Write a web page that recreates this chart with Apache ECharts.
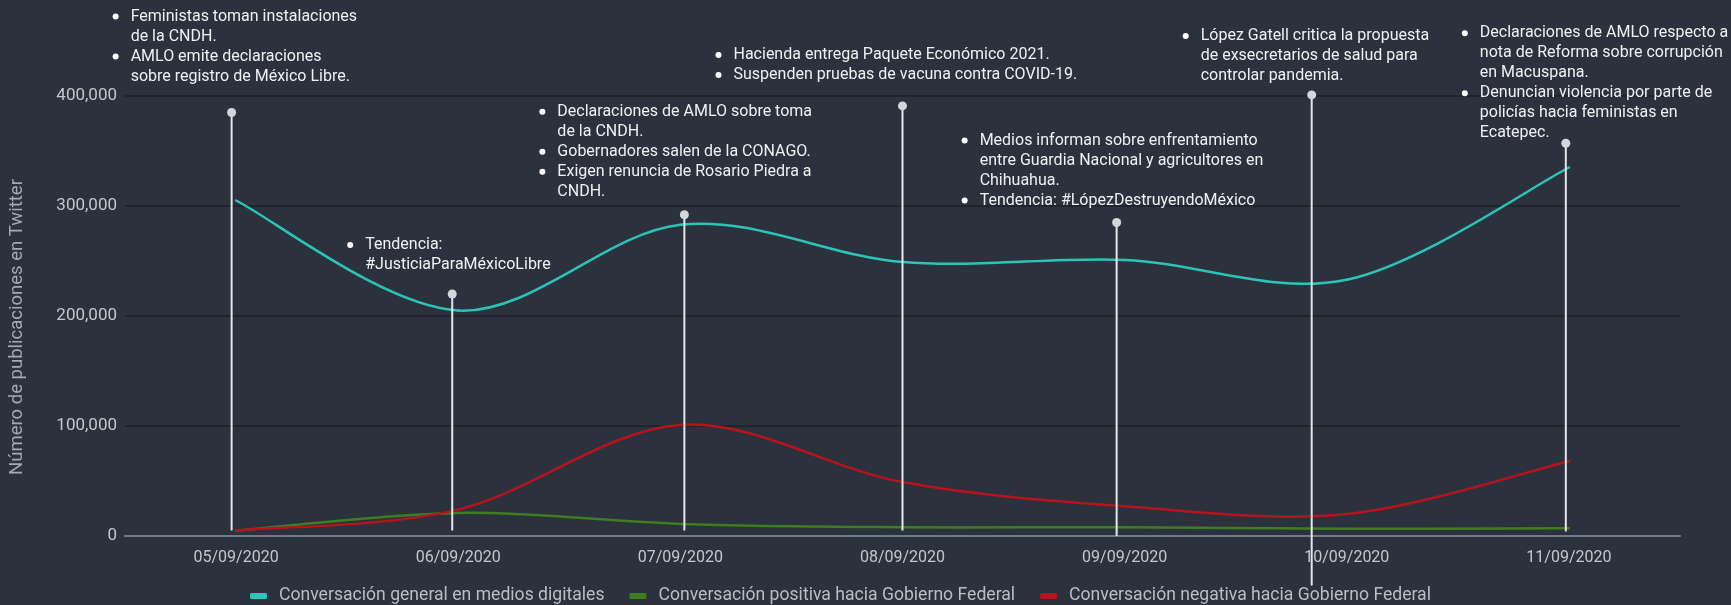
<!DOCTYPE html>
<html>
<head>
<meta charset="utf-8">
<script src="https://cdn.jsdelivr.net/npm/echarts@6/dist/echarts.min.js"></script>
<style>
html,body{margin:0;padding:0;background:#2c323d;}
#chart{width:1731px;height:605px;}
</style>
</head>
<body>
<div id="chart"></div>
<script>
// ---- data ----
const categories = ['05/09/2020','06/09/2020','07/09/2020','08/09/2020','09/09/2020','10/09/2020','11/09/2020'];
const seriesNames = ['Conversación general en medios digitales','Conversación positiva hacia Gobierno Federal','Conversación negativa hacia Gobierno Federal'];
const general  = [305000, 205000, 283000, 249000, 251000, 233000, 335000];
const positiva = [5000, 21000, 11000, 8000, 8000, 6500, 7000];
const negativa = [5000, 24000, 101000, 49000, 27000, 20000, 68000];
const yTicks = [0, 100000, 200000, 300000, 400000];
// annotation markers: position along category index, top and bottom value
const annotX      = [-0.02, 0.973, 2.018, 3.0, 3.964, 4.842, 5.986];
const annotTop    = [385000, 220000, 292000, 391000, 285000, 401000, 357000];
const annotBottom = [5000, 5000, 5000, 5000, 0, -45000, 4000];
const annotText = [
  [['Feministas toman instalaciones','de la CNDH.'],['AMLO emite declaraciones','sobre registro de México Libre.']],
  [['Tendencia:','#JusticiaParaMéxicoLibre']],
  [['Declaraciones de AMLO sobre toma','de la CNDH.'],['Gobernadores salen de la CONAGO.'],['Exigen renuncia de Rosario Piedra a','CNDH.']],
  [['Hacienda entrega Paquete Económico 2021.'],['Suspenden pruebas de vacuna contra COVID-19.']],
  [['Medios informan sobre enfrentamiento','entre Guardia Nacional y agricultores en','Chihuahua.'],['Tendencia: #LópezDestruyendoMéxico']],
  [['López Gatell critica la propuesta','de exsecretarios de salud para','controlar pandemia.']],
  [['Declaraciones de AMLO respecto a','nota de Reforma sobre corrupción','en Macuspana.'],['Denuncian violencia por parte de','policías hacia feministas en','Ecatepec.']]
];

// ---- layout (pixel offsets of text blocks relative to marker dot) ----
const textLayout = [
  {dx:-101, dy:-96}, {dx:-87, dy:-49}, {dx:-127, dy:-103}, {dx:-169, dy:-51},
  {dx:-137, dy:-82}, {dx:-111, dy:-59}, {dx:-86, dy:-110}
];
const colors = ['#2cc4b7', '#3f7d22', '#b8121d'];

const FONT = 'Roboto, "Noto Sans", sans-serif';
const chart = echarts.init(document.getElementById('chart'));

const annotData = annotX.map((x, i) => [x, annotTop[i], annotBottom[i]]);

function renderAnnot(params, api) {
  const i = params.dataIndex;
  const top = api.coord([api.value(0), api.value(1)]);
  const bot = api.coord([api.value(0), api.value(2)]);
  const lay = textLayout[i];
  const children = [
    {type:'line', shape:{x1:top[0], y1:top[1], x2:bot[0], y2:bot[1]}, style:{stroke:'#e4e6ea', lineWidth:2}},
    {type:'circle', shape:{cx:top[0], cy:top[1], r:4.5}, style:{fill:'#d3d6dc'}}
  ];
  const x = top[0] + lay.dx;
  let y = top[1] + lay.dy;
  annotText[i].forEach(b => {
    children.push({type:'circle', shape:{cx:x-15, cy:y, r:3}, style:{fill:'#ffffff'}});
    b.forEach(line => {
      children.push({type:'text', x:x, y:y, style:{text:line, fill:'#eef0f3', font:'16px ' + FONT, textAlign:'left', textVerticalAlign:'middle'}});
      y += 20;
    });
  });
  return {type:'group', children};
}

// Catmull-Rom smoothed line segments, positioned through the axes
function splineRender(values, color) {
  return function (params, api) {
    const i = params.dataIndex;
    const n = values.length;
    if (i >= n - 1) return {type:'group', children:[]};
    const pt = k => api.coord([Math.max(0, Math.min(n - 1, k)), values[Math.max(0, Math.min(n - 1, k))]]);
    const p0 = pt(i - 1), p1 = pt(i), p2 = pt(i + 1), p3 = pt(i + 2);
    return {
      type:'bezierCurve',
      shape:{
        x1:p1[0], y1:p1[1], x2:p2[0], y2:p2[1],
        cpx1:p1[0] + (p2[0] - p0[0]) / 6, cpy1:p1[1] + (p2[1] - p0[1]) / 6,
        cpx2:p2[0] - (p3[0] - p1[0]) / 6, cpy2:p2[1] - (p3[1] - p1[1]) / 6
      },
      style:{stroke:color, lineWidth:2.5, fill:null, lineCap:'round'}
    };
  };
}

function lineSeries(name, values, color, z) {
  return {
    name, type:'custom', data:values.map((v, k) => [k, v]),
    encode:{x:0, y:1},
    renderItem:splineRender(values, color),
    itemStyle:{color}, z, silent:true
  };
}

const option = {
  backgroundColor: '#2c323d',
  animation: false,
  grid: {left:124, right:51, top:96, bottom:69, containLabel:false},
  legend: {
    data: seriesNames,
    left: 250, top: 587, padding: 0,
    icon: 'roundRect', itemWidth: 17, itemHeight: 6, itemGap: 25,
    textStyle: {color:'#b9bdc4', fontSize:17.6, fontFamily:FONT, padding:[0,0,0,7]}
  },
  xAxis: [
    {
      type:'category', data:categories, boundaryGap:true,
      axisLine:{show:true, lineStyle:{color:'#6e7b89', width:2}},
      axisTick:{show:false},
      axisLabel:{color:'#c3c7cd', fontSize:16, fontFamily:FONT, margin:14},
      splitLine:{show:false}
    },
    {type:'value', min:-0.5, max:6.5, show:false}
  ],
  yAxis: {
    type:'value', min:yTicks[0], max:yTicks[yTicks.length-1], interval:100000,
    name:'Número de publicaciones en Twitter', nameLocation:'middle', nameGap:98,
    nameTextStyle:{color:'#a4a8b0', fontSize:18.5, fontFamily:FONT, padding:[0,22,0,0]},
    axisLine:{show:false}, axisTick:{show:false},
    axisLabel:{color:'#c3c7cd', fontSize:17, fontFamily:FONT, margin:8,
      formatter: v => v.toLocaleString('en-US')},
    splitLine:{lineStyle:{color:'#20252c', width:2}}
  },
  series: [
    lineSeries(seriesNames[0], general, colors[0], 3),
    lineSeries(seriesNames[1], positiva, colors[1], 3),
    lineSeries(seriesNames[2], negativa, colors[2], 4),
    {name:'annotations', type:'custom', xAxisIndex:1, yAxisIndex:0, data:annotData,
     renderItem:renderAnnot, clip:false, z:10, silent:true}
  ]
};
chart.setOption(option);
</script>
</body>
</html>
